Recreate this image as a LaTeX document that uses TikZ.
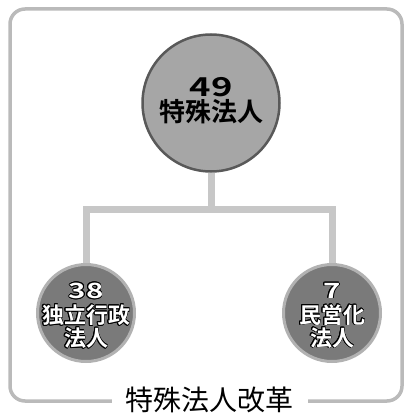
\documentclass[tikz,border=0pt]{standalone}
\usepackage{fontspec}
\setmainfont{Noto Sans CJK JP}[BoldFont=Noto Sans CJK JP Bold]
\usepackage{contour}
\contourlength{0.7pt}
\newcommand{\widedigits}[2]{{\fontsize{#1}{#1}\selectfont\scalebox{1.4}[1]{#2}}}
\tikzset{
	bigball/.style={circle, draw=black!65, line width=2.5pt, fill=black!35, minimum size=137pt, inner sep=0pt},
	smallball/.style={circle, draw=black!30, line width=3pt, fill=black!52, minimum size=97pt, inner sep=0pt},
	bigtext/.style={align=center, inner sep=0pt, font=\bfseries\fontsize{26}{26}\selectfont},
	smalltext/.style={align=center, inner sep=0pt, text=white, font=\bfseries\fontsize{22}{23}\selectfont},
	link/.style={draw=black!22, line width=7pt},
	frame/.style={draw=black!27, line width=3.5pt, rounded corners=15pt}
}
\begin{document}
\begin{tikzpicture}[x=1pt, y=-1pt]
		%%%%% START %%%%%
		\useasboundingbox (0, 0) rectangle (406, 414);
		
		\draw[frame] (10, 9) rectangle (402, 401);
		\node[fill=white, inner xsep=14pt, inner ysep=1pt, font=\fontsize{28}{28}\selectfont] (title) at (209.5, 400) {特殊法人改革};
		
		\node[bigball] (tokushu) at (211, 103) {};
		\node[smallball] (dokuritsu) at (86, 313) {};
		\node[smallball] (minei) at (332, 313) {};
		
		\node[bigtext] (tokushutext) at ([yshift=2pt]tokushu.center) {\widedigits{26}{49}\\[-1pt]特殊法人};
		\node[smalltext] (dokuritsutext) at ([yshift=-3pt]dokuritsu.center) {\contour{black}{\widedigits{21}{38}}\\[2pt]\contour{black}{独立行政}\\\contour{black}{法人}};
		\node[smalltext] (mineitext) at ([yshift=-3pt]minei.center) {\contour{black}{\widedigits{21}{7}}\\[2pt]\contour{black}{民営化}\\\contour{black}{法人}};
		
		\coordinate (fork) at (211, 209.5);
		\draw[link] (tokushu.south) -- (fork);
		\draw[link] (dokuritsu.north) |- (fork) -| (minei.north);
		
		%%%%% END %%%%%
	\end{tikzpicture}
\end{document}
